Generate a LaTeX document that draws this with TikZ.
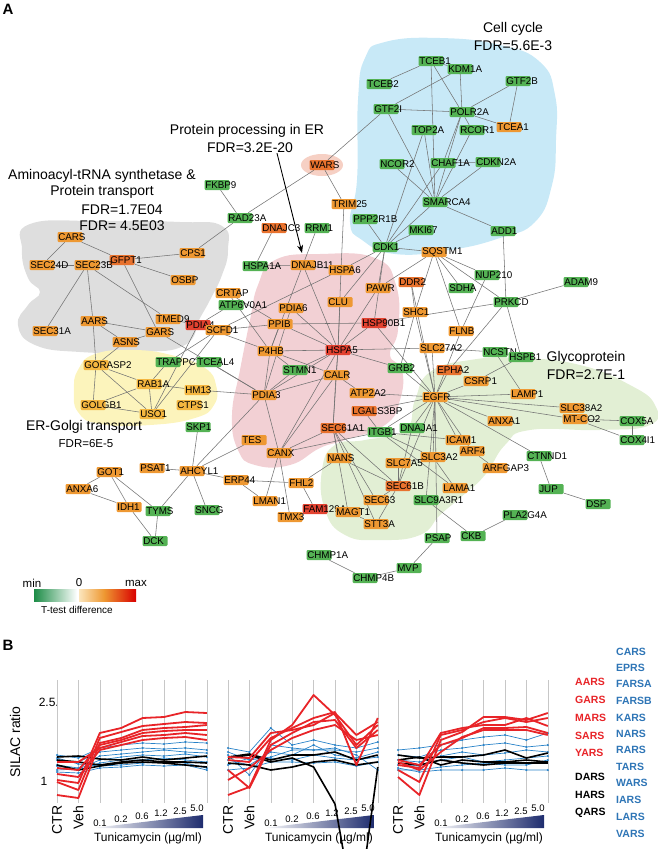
\documentclass[tikz,border=0pt]{standalone}
\usepackage{fontspec}
\setmainfont{Liberation Sans}
\usetikzlibrary{arrows.meta}
\pgfdeclarelayer{blobs}
\pgfdeclarelayer{edges}
\pgfsetlayers{blobs,edges,main}
\definecolor{geneg}{RGB}{84,178,84}
\definecolor{geneo}{RGB}{238,152,50}
\definecolor{genedo}{RGB}{232,114,46}
\definecolor{gener}{RGB}{226,66,48}
\definecolor{geney}{RGB}{244,182,64}
\definecolor{blobblue}{RGB}{200,233,247}
\definecolor{blobgray}{RGB}{222,222,222}
\definecolor{blobyellow}{RGB}{252,244,188}
\definecolor{blobpink}{RGB}{242,208,212}
\definecolor{blobgreen}{RGB}{226,239,212}
\definecolor{blobwars}{RGB}{246,208,196}
\definecolor{aared}{RGB}{232,36,40}
\definecolor{aablue}{RGB}{46,117,182}
\definecolor{dotblue}{RGB}{40,130,200}
\definecolor{tunidark}{RGB}{30,44,110}
\definecolor{ttgreen}{RGB}{28,140,70}
\newcommand{\gene}[5]{%
    \node[genebox, fill=#4] (#1) at (#2,#3) {};
    \node[genetext] (#1t) at (#1.west) {#5};
}
\newcommand{\silac}[4]{%
    \draw[#1] (#2,#3) \foreach \yy [count=\i] in {#4} { -- ({#2+\i*21.4},\yy) };
}
\newcommand{\silacdot}[4]{%
    \draw[#1] (#2,#3) node[bdot] {} \foreach \yy [count=\i] in {#4} { -- ({#2+\i*21.4},\yy) node[bdot] {} };
}
\tikzset{
    genebox/.style={rectangle, rounded corners=1.2pt, minimum width=25pt, minimum height=10pt, inner sep=0pt},
    genetext/.style={anchor=west, inner sep=0.8pt, font=\fontsize{9.8}{10}\selectfont},
    link/.style={draw=black!55, line width=0.55pt},
    grouptitle/.style={font=\fontsize{14}{16}\selectfont, inner sep=0pt},
    groupfdr/.style={font=\fontsize{11.5}{13}\selectfont, inner sep=0pt},
    paneltag/.style={font=\fontsize{15}{17}\selectfont\bfseries, inner sep=0pt},
    pparrow/.style={draw=black, line width=0.9pt, -{Stealth[length=8pt, width=6pt]}},
    gridline/.style={draw=black!22, line width=0.6pt},
    redline/.style={draw=aared, line width=1.8pt, line join=round},
    blackline/.style={draw=black, line width=1.6pt, line join=round},
    blueline/.style={draw=dotblue, line width=0.7pt},
    bdot/.style={circle, fill=dotblue, inner sep=0pt, minimum size=2.4pt},
    ctrlabel/.style={rotate=90, anchor=east, inner sep=0.5pt, font=\fontsize{14}{16}\selectfont},
    ticklabel/.style={anchor=south, inner sep=0.5pt, font=\fontsize{9.5}{10}\selectfont},
    tunilabel/.style={inner sep=0pt, font=\fontsize{12}{14}\selectfont},
    aaname/.style={anchor=west, inner sep=0pt, font=\fontsize{10.5}{12}\selectfont\bfseries},
}
\begin{document}
\begin{tikzpicture}[x=1pt, y=-1pt]
    \useasboundingbox (0,0) rectangle (658,849);
    \node[paneltag] (tagA) at (8,9) {A};
    % --- Group titles ---
    \node[grouptitle] (cctitle) at (513,29) {Cell cycle};
    \node[grouptitle] (ccfdr) at (513,46) {FDR=5.6E-3};
    \node[grouptitle] (pptitle) at (247,131) {Protein processing in ER};
    \node[grouptitle] (ppfdr) at (250,148) {FDR=3.2E-20};
    \node[grouptitle] (aatitle) at (102,176) {Aminoacyl-tRNA synthetase \&};
    \node[grouptitle] (pttitle) at (102,192) {Protein transport};
    \node[grouptitle] (aafdr) at (122,210) {FDR=1.7E04};
    \node[grouptitle] (ptfdr) at (122,226) {FDR= 4.5E03};
    \node[grouptitle] (egtitle) at (84,427) {ER-Golgi transport};
    \node[groupfdr] (egfdr) at (86,444) {FDR=6E-5};
    \node[grouptitle] (gptitle) at (586,358) {Glycoprotein};
    \node[grouptitle] (gpfdr) at (586,375) {FDR=2.7E-1};
    % --- Cell cycle nodes ---
    \gene{tceb1}{431}{61}{geneg}{TCEB1}
    \gene{tceb2}{379}{84}{geneg}{TCEB2}
    \gene{gtf2i}{386}{109}{geneg}{GTF2I}
    \gene{kdm1a}{460}{69}{geneg}{KDM1A}
    \gene{gtf2b}{518}{81}{geneg}{GTF2B}
    \gene{polr2a}{462}{112}{geneg}{POLR2A}
    \gene{top2a}{424}{130}{geneg}{TOP2A}
    \gene{tcea1}{509}{127}{geneo}{TCEA1}
    \gene{rcor1}{472}{130}{geneg}{RCOR1}
    \gene{ncor2}{392}{164}{geneg}{NCOR2}
    \gene{chaf1a}{443}{163}{geneg}{CHAF1A}
    \gene{cdkn2a}{488}{162}{geneg}{CDKN2A}
    \gene{smarca4}{435}{202}{geneg}{SMARCA4}
    \gene{mki67}{421}{230}{geneg}{MKI67}
    \gene{add1}{503}{231}{geneg}{ADD1}
    \gene{ppp2r1b}{365}{219}{geneg}{PPP2R1B}
    \gene{cdk1}{385}{247}{geneg}{CDK1}
    % --- Protein processing in ER nodes ---
    \gene{wars}{322}{165}{genedo}{WARS}
    \gene{trim25}{344}{204}{geneo}{TRIM25}
    \gene{fkbp9}{217}{185}{geneg}{FKBP9}
    \gene{rad23a}{240}{218}{geneg}{RAD23A}
    \gene{dnajc3}{274}{228}{genedo}{DNAJC3}
    \gene{rrm1}{317}{228}{geneg}{RRM1}
    \gene{hspa1a}{255}{266}{geneg}{HSPA1A}
    \gene{dnajb11}{303}{265}{geneo}{DNAJB11}
    \gene{hspa6}{341}{270}{geneo}{HSPA6}
    \gene{sqstm1}{434}{252}{geneo}{SQSTM1}
    \gene{ddr2}{411}{282}{genedo}{DDR2}
    \gene{pawr}{378}{288}{geneo}{PAWR}
    \gene{crtap}{228}{293}{geneo}{CRTAP}
    \gene{atp6v0a1}{231}{305}{geneg}{ATP6V0A1}
    \gene{clu}{340}{302}{geneo}{CLU}
    \gene{pdia6}{291}{308}{geneo}{PDIA6}
    \gene{shc1}{415}{312}{geneo}{SHC1}
    \gene{ppib}{280}{324}{geneo}{PPIB}
    \gene{hsp90b1}{374}{323}{gener}{HSP90B1}
    \gene{pdia4}{198}{325}{gener}{PDIA4}
    \gene{scfd1}{218}{330}{geneo}{SCFD1}
    \gene{p4hb}{270}{351}{geneo}{P4HB}
    \gene{hspa5}{338}{350}{gener}{HSPA5}
    \gene{slc27a2}{432}{348}{geneo}{SLC27A2}
    \gene{stmn1}{295}{370}{geneg}{STMN1}
    \gene{grb2}{400}{368}{geneg}{GRB2}
    \gene{calr}{336}{375}{geneo}{CALR}
    \gene{epha2}{449}{370}{genedo}{EPHA2}
    \gene{pdia3}{264}{395}{geneo}{PDIA3}
    \gene{atp2a2}{362}{393}{geneo}{ATP2A2}
    \gene{egfr}{435}{397}{geneo}{EGFR}
    \gene{csrp1}{476}{381}{geneo}{CSRP1}
    \gene{lgals3bp}{364}{411}{genedo}{LGALS3BP}
    \gene{anxa1}{500}{421}{geneo}{ANXA1}
    \gene{lamp1}{523}{394}{geneo}{LAMP1}
    \gene{sec61a1}{333}{428}{genedo}{SEC61A1}
    \gene{itgb1}{380}{432}{geneg}{ITGB1}
    \gene{dnaja1}{412}{428}{geneg}{DNAJA1}
    \gene{icam1}{458}{440}{geneo}{ICAM1}
    \gene{arf4}{472}{451}{geneo}{ARF4}
    \gene{arfgap3}{495}{468}{geneo}{ARFGAP3}
    \gene{nans}{339}{458}{geneo}{NANS}
    \gene{slc3a2}{433}{457}{geneo}{SLC3A2}
    \gene{slc7a5}{398}{463}{geneo}{SLC7A5}
    \gene{sec61b}{398}{486}{genedo}{SEC61B}
    \gene{lama1}{455}{488}{geneo}{LAMA1}
    \gene{slc9a3r1}{426}{500}{geneg}{SLC9A3R1}
    \gene{tes}{254}{440}{geneo}{TES}
    \gene{canx}{279}{453}{geneo}{CANX}
    \gene{erp44}{236}{480}{geneo}{ERP44}
    \gene{fhl2}{301}{483}{geneo}{FHL2}
    \gene{lman1}{265}{501}{geneo}{LMAN1}
    \gene{fam129a}{315}{509}{gener}{FAM129A}
    \gene{tmx3}{290}{517}{geneo}{TMX3}
    \gene{magt1}{348}{512}{geneo}{MAGT1}
    \gene{sec63}{376}{500}{geneo}{SEC63}
    \gene{stt3a}{376}{524}{geneo}{STT3A}
    % --- Glycoprotein side ---
    \gene{psap}{437}{538}{geneg}{PSAP}
    \gene{mvp}{409}{568}{geneg}{MVP}
    \gene{chmp1a}{319}{555}{geneg}{CHMP1A}
    \gene{chmp4b}{365}{578}{geneg}{CHMP4B}
    \gene{ckb}{473}{536}{geneg}{CKB}
    \gene{pla2g4a}{515}{515}{geneg}{PLA2G4A}
    \gene{ctnnd1}{539}{456}{geneg}{CTNND1}
    \gene{jup}{551}{489}{geneg}{JUP}
    \gene{dsp}{598}{504}{geneg}{DSP}
    \gene{slc38a2}{572}{408}{geneo}{SLC38A2}
    \gene{mtco2}{575}{419}{geneo}{MT-CO2}
    \gene{cox5a}{632}{421}{geneg}{COX5A}
    \gene{cox4i1}{632}{440}{geneg}{COX4I1}
    \gene{ncstn}{495}{352}{geneg}{NCSTN}
    \gene{hspb1}{521}{357}{geneg}{HSPB1}
    \gene{flnb}{461}{331}{geneo}{FLNB}
    \gene{prkcd}{506}{302}{geneg}{PRKCD}
    \gene{adam9}{576}{282}{geneg}{ADAM9}
    \gene{sdha}{461}{288}{geneg}{SDHA}
    \gene{nup210}{487}{275}{geneg}{NUP210}
    % --- Aminoacyl-tRNA and ER-Golgi nodes ---
    \gene{cars}{70}{237}{geneo}{CARS}
    \gene{gfpt1}{122}{260}{genedo}{GFPT1}
    \gene{cps1}{192}{253}{geneo}{CPS1}
    \gene{sec24d}{42}{265}{geneo}{SEC24D}
    \gene{sec23b}{87}{265}{geneo}{SEC23B}
    \gene{osbp}{183}{280}{geneo}{OSBP}
    \gene{tmed9}{168}{319}{geneo}{TMED9}
    \gene{aars}{93}{321}{geneo}{AARS}
    \gene{sec31a}{45}{331}{geneo}{SEC31A}
    \gene{gars}{158}{332}{geneo}{GARS}
    \gene{asns}{125}{342}{geneo}{ASNS}
    \gene{gorasp2}{96}{365}{geney}{GORASP2}
    \gene{trappc3}{168}{362}{geneg}{TRAPPC3}
    \gene{tceal4}{209}{362}{geneg}{TCEAL4}
    \gene{rab1a}{149}{384}{geney}{RAB1A}
    \gene{hm13}{197}{390}{geney}{HM13}
    \gene{golgb1}{93}{405}{geney}{GOLGB1}
    \gene{ctps1}{189}{405}{geney}{CTPS1}
    \gene{uso1}{152}{414}{geney}{USO1}
    % --- Lower left nodes ---
    \gene{skp1}{198}{427}{geneg}{SKP1}
    \gene{psat1}{152}{468}{geneo}{PSAT1}
    \gene{ahcyl1}{192}{471}{geneo}{AHCYL1}
    \gene{got1}{109}{472}{geneo}{GOT1}
    \gene{anxa6}{78}{489}{geneo}{ANXA6}
    \gene{idh1}{129}{507}{geneo}{IDH1}
    \gene{tyms}{158}{511}{geneg}{TYMS}
    \gene{sncg}{207}{510}{geneg}{SNCG}
    \gene{dck}{155}{541}{geneg}{DCK}
    % --- Arrow to the ER group ---
    \coordinate (pptip) at (302,253);
    \draw[pparrow] ([xshift=27pt]ppfdr.south) -- (pptip);
    % --- Shaded groups ---
    \begin{pgfonlayer}{blobs}
        \fill[blobblue] plot[smooth cycle, tension=0.8] coordinates {(385,42) (440,38) (500,45) (540,62) (555,95) (556,140) (552,185) (535,222) (500,238) (450,250) (395,254) (362,240) (350,222) (357,180) (358,100) (365,58)};
        \fill[blobgray] plot[smooth cycle, tension=0.8] coordinates {(30,224) (100,221) (180,222) (222,226) (228,250) (222,275) (210,300) (200,318) (185,345) (140,352) (80,352) (35,345) (18,325) (28,305) (40,292) (28,278) (22,250)};
        \fill[blobyellow] plot[smooth cycle, tension=0.8] coordinates {(78,370) (95,354) (135,350) (175,356) (205,368) (216,385) (214,405) (195,418) (150,425) (100,424) (78,412) (74,390)};
        \fill[blobpink] plot[smooth cycle, tension=0.8] coordinates {(275,260) (320,254) (375,258) (396,285) (398,330) (390,355) (402,370) (400,400) (385,425) (345,440) (320,448) (290,465) (255,465) (238,450) (232,415) (240,370) (250,320) (258,285)};
        \fill[blobgreen] plot[smooth cycle, tension=0.8] coordinates {(430,372) (470,360) (520,358) (580,365) (630,385) (655,405) (650,425) (600,430) (530,430) (505,445) (485,475) (460,498) (440,515) (420,535) (380,540) (345,535) (325,510) (322,470) (335,445) (365,440) (405,430) (415,400)};
        \fill[blobwars] (322,165) ellipse [x radius=21, y radius=11];
    \end{pgfonlayer}
    % --- Interactions ---
    \begin{pgfonlayer}{edges}
        \foreach \a/\b in {tceb1/tceb2, tceb1/kdm1a, tceb1/polr2a, tceb1/smarca4, gtf2i/kdm1a, gtf2i/polr2a, gtf2i/smarca4, gtf2i/wars,
                kdm1a/polr2a, gtf2b/polr2a, gtf2b/tcea1, polr2a/tcea1, polr2a/rcor1, polr2a/chaf1a, polr2a/smarca4, rcor1/smarca4,
                chaf1a/cdkn2a, cdkn2a/smarca4, ncor2/smarca4, top2a/cdk1, top2a/smarca4, chaf1a/cdk1, smarca4/add1, smarca4/cdk1,
                mki67/cdk1, ppp2r1b/cdk1, cdk1/sqstm1} {
                \draw[link] (\a) -- (\b);
            }
        \foreach \a/\b in {wars/trim25, wars/rad23a, fkbp9/rad23a, cps1/rad23a, trim25/hspa6, dnajc3/hspa1a, rrm1/p4hb,
                hspa1a/dnajb11, dnajb11/hspa6, dnajb11/hspa5, hspa6/hspa5, hspa6/scfd1, hspa6/cdk1, clu/hspa5, clu/cdk1,
                pawr/hspa5, pawr/sqstm1, pawr/cdk1, ddr2/shc1, ddr2/egfr, shc1/grb2, shc1/egfr, shc1/sqstm1, hsp90b1/hspa5,
                hsp90b1/egfr, hsp90b1/cdk1, hsp90b1/prkcd, ppib/hsp90b1, scfd1/ppib, crtap/ppib, crtap/p4hb, ppib/hspa5,
                pdia6/hspa5, pdia6/pdia3, p4hb/hspa5, p4hb/pdia3, p4hb/calr, p4hb/pdia4, p4hb/stmn1, p4hb/ppib, hspa5/calr,
                hspa5/pdia3, hspa5/stmn1, hspa5/sec61a1, hspa5/canx, hspa5/slc27a2, hspa5/grb2, calr/pdia3, calr/canx,
                calr/atp2a2, calr/sec61a1, stmn1/pdia3, pdia3/canx, pdia3/hm13, pdia3/gars, pdia3/tceal4, pdia3/ahcyl1,
                atp2a2/egfr, lgals3bp/itgb1, lgals3bp/egfr, atp6v0a1/pdia4} {
                \draw[link] (\a) -- (\b);
            }
        \foreach \a/\b in {cars/gfpt1, cars/sec24d, sec24d/sec23b, sec23b/gfpt1, gfpt1/cps1, gfpt1/osbp, sec23b/sec31a,
                sec23b/aars, sec23b/tmed9, gfpt1/gars, aars/gars, aars/asns, aars/gorasp2, tmed9/pdia4, gars/asns,
                asns/gorasp2, gorasp2/rab1a, gorasp2/golgb1, gorasp2/uso1, rab1a/trappc3, rab1a/hm13, rab1a/golgb1,
                rab1a/uso1, golgb1/uso1, uso1/scfd1, uso1/pdia4, trappc3/scfd1,
                ahcyl1/skp1, ahcyl1/psat1, ahcyl1/tyms, ahcyl1/sncg, ahcyl1/erp44, ahcyl1/tes, got1/anxa6, got1/idh1,
                got1/tyms, anxa6/idh1, idh1/dck, tyms/dck} {
                \draw[link] (\a) -- (\b);
            }
        \foreach \a/\b in {egfr/epha2, egfr/grb2, egfr/csrp1, egfr/lamp1, egfr/anxa1, egfr/slc38a2, egfr/mtco2, egfr/icam1,
                egfr/arf4, egfr/slc3a2, egfr/dnaja1, egfr/itgb1, egfr/ctnnd1, egfr/sec61b, egfr/psap, egfr/flnb, egfr/slc27a2,
                epha2/prkcd, csrp1/hspb1, ncstn/hspb1, ncstn/lamp1, ncstn/slc27a2, prkcd/hspb1, prkcd/add1, prkcd/adam9,
                prkcd/sqstm1, nup210/sqstm1, nup210/flnb, sdha/sqstm1, sqstm1/flnb, mtco2/cox5a, mtco2/cox4i1, cox5a/cox4i1,
                ctnnd1/jup, jup/dsp, ckb/pla2g4a, slc9a3r1/ckb, psap/mvp, mvp/chmp4b, chmp4b/chmp1a, arf4/arfgap3,
                icam1/itgb1, slc3a2/slc7a5, slc3a2/itgb1, slc3a2/lama1, itgb1/lama1, slc7a5/sec61b, sec61b/sec63,
                sec61b/stt3a, sec61b/nans, sec61a1/nans, sec61a1/sec61b, sec61a1/sec63, sec61a1/stt3a, sec61a1/magt1,
                sec61a1/itgb1, nans/fhl2, magt1/stt3a, fhl2/fam129a, erp44/fhl2, erp44/lman1, canx/lman1, canx/tmx3,
                canx/itgb1, canx/sec61a1, egfr/slc9a3r1, dnaja1/sec61b} {
                \draw[link] (\a) -- (\b);
            }
    \end{pgfonlayer}
    % --- Colour key ---
    \shade[left color=ttgreen, right color=white] (34,589) rectangle (77,601);
    \shade[left color=geney!35, right color=geneo] (79,589) rectangle (104,601);
    \shade[left color=geneo, right color=red!85!black] (104,589) rectangle (136,601);
    \node[groupfdr] (keymin) at (32,583) {min};
    \node[groupfdr] (keyzero) at (79,583) {0};
    \node[groupfdr] (keymax) at (136,583) {max};
    \node[font=\fontsize{10}{12}\selectfont, inner sep=0pt] (keytitle) at (77,610) {T-test difference};
    % --- Panel B: SILAC ratios ---
    \node[paneltag] (tagB) at (8,645) {B};
    \node[grouptitle, rotate=90] (silac) at (15,742) {SILAC ratio};
    \node[tunilabel, anchor=east] (ytop) at (59,702) {2.5.};
    \node[tunilabel] (ybot) at (44,781) {1};
    \foreach \cx in {57,228,398} {
            \foreach \k in {0,...,7} \draw[gridline] ({\cx+\k*21.4},680) -- ({\cx+\k*21.4},803);
            \node[ctrlabel] at (\cx,805) {CTR};
            \node[ctrlabel] at ({\cx+21.4},805) {Veh};
            \shade[left color=white, right color=tunidark] ({\cx+35},828) -- ({\cx+146},815) -- ({\cx+146},828) -- cycle;
            \foreach \tk/\dx/\dy in {0.1/43/827, 0.2/64/823, 0.6/85/820, 1.2/104/817, 2.5/123/815, 5.0/140/812}
            \node[ticklabel] at ({\cx+\dx},\dy) {\tk};
            \node[tunilabel] at ({\cx+91},838) {Tunicamycin (µg/ml)};
        }
    % chart 1
    \silacdot{blueline}{57}{755}{758,748,745,743,744,742,743}
    \silacdot{blueline}{57}{760}{762,752,750,748,749,748,750}
    \silacdot{blueline}{57}{765}{768,756,754,752,750,752,753}
    \silacdot{blueline}{57}{770}{769,760,757,755,756,754,757}
    \silacdot{blueline}{57}{766}{770,763,760,760,758,760,762}
    \silacdot{blueline}{57}{758}{764,766,765,763,762,763,768}
    \silacdot{blueline}{57}{772}{773,768,767,765,766,765,770}
    \silac{blackline}{57}{757}{756,759,760,757,760,758,756}
    \silac{blackline}{57}{760}{762,765,762,760,762,762,763}
    \silac{blackline}{57}{765}{770,766,763,762,763,765,767}
    \silac{redline}{57}{780}{783,733,728,718,717,712,713}
    \silac{redline}{57}{782}{790,738,732,726,724,722,723}
    \silac{redline}{57}{795}{798,743,738,730,728,727,725}
    \silac{redline}{57}{768}{770,745,740,733,731,730,730}
    \silac{redline}{57}{762}{762,748,742,736,735,733,735}
    \silac{redline}{57}{774}{777,750,745,740,738,737,740}
    % chart 2
    \silacdot{blueline}{228}{748}{752,728,745,740,745,748,742}
    \silacdot{blueline}{228}{755}{775,745,748,750,750,752,748}
    \silacdot{blueline}{228}{760}{765,752,755,745,755,758,752}
    \silacdot{blueline}{228}{765}{758,758,760,755,758,760,757}
    \silacdot{blueline}{228}{770}{768,762,762,763,762,766,762}
    \silacdot{blueline}{228}{752}{760,757,750,750,748,755,770}
    \silac{blackline}{228}{758}{755,762,758,767,804,925,767}
    \silac{blackline}{228}{757}{754,760,755,755,752,760,755}
    \silac{blackline}{228}{763}{765,770,767,762,760,765,762}
    \silac{redline}{228}{795}{787,740,725,695,715,745,725}
    \silac{redline}{228}{760}{762,738,728,718,712,765,718}
    \silac{redline}{228}{770}{788,745,733,722,720,748,730}
    \silac{redline}{228}{757}{758,733,730,725,713,735,722}
    \silac{redline}{228}{780}{768,750,738,730,725,740,735}
    % chart 3
    \silacdot{blueline}{398}{750}{748,745,740,737,735,740,733}
    \silacdot{blueline}{398}{755}{757,750,748,745,743,747,745}
    \silacdot{blueline}{398}{760}{762,756,752,755,753,750,752}
    \silacdot{blueline}{398}{765}{766,760,757,762,760,758,756}
    \silacdot{blueline}{398}{770}{770,767,765,763,765,765,760}
    \silacdot{blueline}{398}{768}{772,770,770,770,768,770,770}
    \silac{blackline}{398}{755}{758,757,757,755,750,758,753}
    \silac{blackline}{398}{760}{757,765,760,762,762,760,762}
    \silac{blackline}{398}{763}{765,760,763,765,763,763,763}
    \silac{redline}{398}{777}{795,740,732,717,717,720,713}
    \silac{redline}{398}{770}{782,735,730,722,718,722,718}
    \silac{redline}{398}{765}{768,733,728,725,725,718,726}
    \silac{redline}{398}{760}{765,745,738,728,728,727,733}
    \silac{redline}{398}{762}{770,752,737,730,730,730,735}
    % --- aaRS key ---
    \foreach \nm/\yy in {AARS/682, GARS/700, MARS/718, SARS/736, YARS/753}
    \node[aaname, text=aared] at (575,\yy) {\nm};
    \foreach \nm/\yy in {DARS/777, HARS/795, QARS/813}
    \node[aaname, text=black] at (575,\yy) {\nm};
    \foreach \nm/\yy in {CARS/652, EPRS/668, FARSA/684, FARSB/701, KARS/718, NARS/734, RARS/750, TARS/767, WARS/783, IARS/800, LARS/817, VARS/834}
    \node[aaname, text=aablue] at (616,\yy) {\nm};
\end{tikzpicture}
\end{document}
